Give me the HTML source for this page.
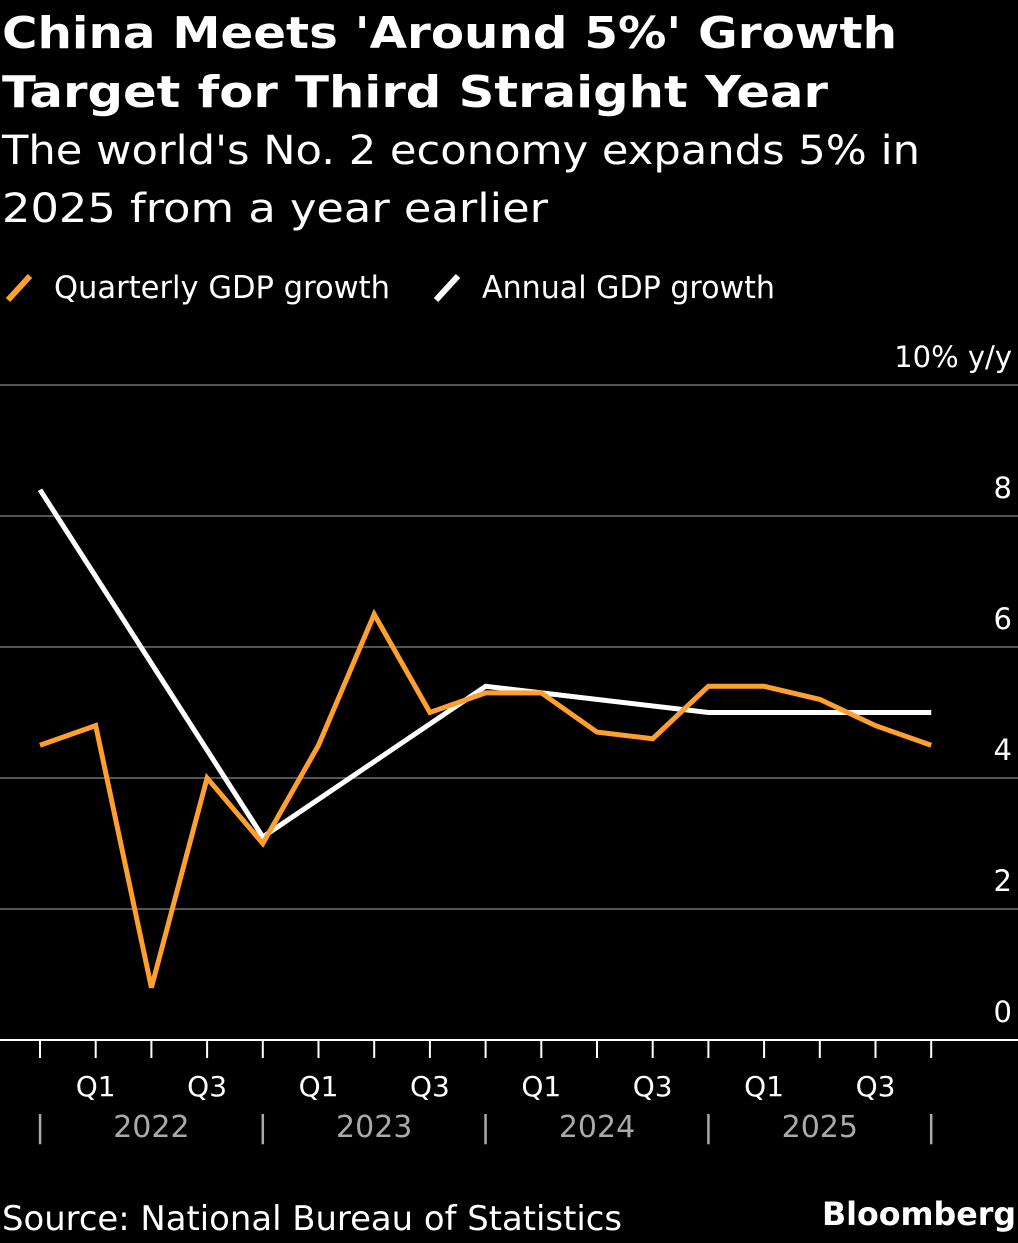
<!DOCTYPE html>
<html><head><meta charset="utf-8"><style>
body{margin:0;background:#000;width:1018px;height:1239px;overflow:hidden;font-family:"DejaVu Sans","Liberation Sans",sans-serif;color:#fff}
</style></head><body>
<svg width="1018" height="1239" font-family="DejaVu Sans, Liberation Sans, sans-serif">
<text x="2" y="48" font-size="44" font-weight="bold" fill="#fff" textLength="895" lengthAdjust="spacingAndGlyphs">China Meets 'Around 5%' Growth</text>
<text x="2" y="107" font-size="44" font-weight="bold" fill="#fff" textLength="826" lengthAdjust="spacingAndGlyphs">Target for Third Straight Year</text>
<text x="2" y="164" font-size="40" fill="#fff" textLength="918" lengthAdjust="spacingAndGlyphs">The world's No. 2 economy expands 5% in</text>
<text x="2" y="222" font-size="40" fill="#fff" textLength="546" lengthAdjust="spacingAndGlyphs">2025 from a year earlier</text>
<g>
<line x1="8" y1="300" x2="30" y2="276" stroke="#ff9f2e" stroke-width="6"/>
<text x="54" y="298" font-size="31" fill="#fff" textLength="336" lengthAdjust="spacingAndGlyphs">Quarterly GDP growth</text>
<line x1="436" y1="300" x2="458" y2="276" stroke="#fff" stroke-width="6"/>
<text x="482" y="298" font-size="31" fill="#fff" textLength="293" lengthAdjust="spacingAndGlyphs">Annual GDP growth</text>
</g>
<g id="plot"></g>
<text x="2" y="1230" font-size="34" fill="#fff" textLength="620" lengthAdjust="spacingAndGlyphs">Source: National Bureau of Statistics</text>
<text x="1016" y="1225" font-size="32" font-weight="bold" fill="#fff" text-anchor="end" textLength="194" lengthAdjust="spacingAndGlyphs">Bloomberg</text>
</svg>
<script>
const yTicks=[0,2,4,6,8];
const quarterly=[4.5,4.8,0.8,4.0,3.0,4.5,6.5,5.0,5.3,5.3,4.7,4.6,5.4,5.4,5.2,4.8,4.5];
const annualIdx=[0,4,8,12,16];
const annual=[8.4,3.1,5.4,5.0,5.0];
const qLabels=["","Q1","","Q3","","Q1","","Q3","","Q1","","Q3","","Q1","","Q3",""];
const years=["2022","2023","2024","2025"];
const NS="http://www.w3.org/2000/svg";
const g=document.getElementById('plot');
const X=i=>40+i*55.7;
const Y=v=>1040-v*65.5;
function mk(t,a,p){const e=document.createElementNS(NS,t);for(const k in a)e.setAttribute(k,a[k]);(p||g).appendChild(e);return e;}
[...yTicks,10].forEach(v=>{
 if(v>0){const l=mk('line',{x1:0,x2:1018,y1:Y(v),y2:Y(v),stroke:'#555','stroke-width':2});
 
 }
});
yTicks.forEach(v=>{
 const t=mk('text',{x:1012,y:Y(v)-18,'font-size':29,fill:'#fff','text-anchor':'end'});t.textContent=v;
 
 
});
const tt=mk('text',{x:1012,y:Y(10)-18,'font-size':29,fill:'#fff','text-anchor':'end'});tt.textContent='10% y/y';


const ax=mk('line',{x1:0,x2:1018,y1:1040,y2:1040,stroke:'#fff','stroke-width':2});


quarterly.forEach((v,i)=>{
 const t=mk('line',{x1:X(i),x2:X(i),y1:1040,y2:1058,stroke:'#fff','stroke-width':2});
 
 
 if(qLabels[i]){const l=mk('text',{x:X(i),y:1096,'font-size':28,fill:'#fff','text-anchor':'middle'});l.textContent=qLabels[i];
 
 }
});
for(let k=0;k<=4;k++){const s=mk('text',{x:X(k*4),y:1137,'font-size':30,fill:'#aaa','text-anchor':'middle'});s.textContent='|';
 
 }
years.forEach((y,k)=>{const t=mk('text',{x:X(k*4+2),y:1137,'font-size':30,fill:'#aaa','text-anchor':'middle'});t.textContent=y;
 
 });
const pa=mk('polyline',{points:annual.map((v,k)=>X(annualIdx[k])+','+Y(v)).join(' '),fill:'none',stroke:'#fff','stroke-width':5});


const pq=mk('polyline',{points:quarterly.map((v,i)=>X(i)+','+Y(v)).join(' '),fill:'none',stroke:'#ff9f2e','stroke-width':5,'stroke-linejoin':'miter'});


</script>
</body></html>
